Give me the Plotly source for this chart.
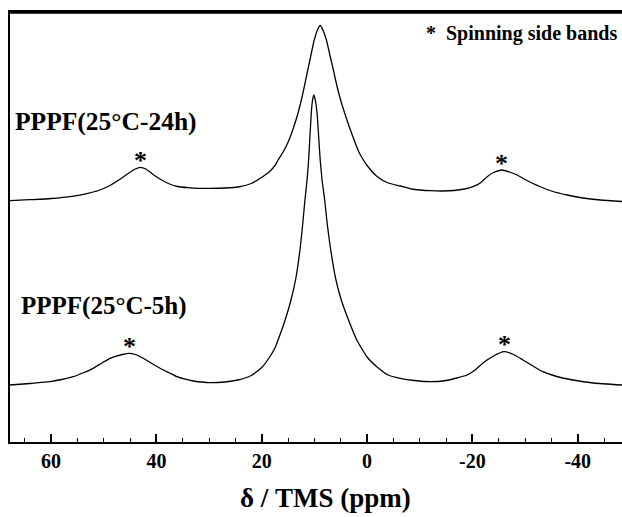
import plotly.graph_objects as go

# ---- data (chemical shift in ppm, intensity above own baseline) ----
ppm_24h = [67.8, 64.0, 60.0, 56.0, 53.0, 51.0, 49.0, 47.0, 45.5, 44.0, 43.1, 42.0, 40.5,
           39.0, 37.5, 36.0, 34.0, 32.0, 29.8, 27.0, 24.5, 22.0, 19.9, 18.5, 17.5, 16.9,
           16.0, 15.2, 14.6, 13.9, 13.1, 12.2, 11.4, 10.8, 10.1, 9.5, 8.9, 8.3, 7.7, 7.0,
           6.3, 5.7, 5.0, 4.2, 3.4, 2.5, 1.6, 1.1, 0.0, -1.9, -4.0, -6.3, -8.5, -10.1,
           -12.0, -14.4, -16.5, -18.5, -20.1, -21.5, -22.8, -24.0, -25.6, -27.0, -28.5,
           -30.0, -31.5, -33.0, -35.0, -38.0, -41.0, -44.3, -48.4]
int_24h = [0.8, 1.8, 3.0, 5.2, 8.2, 11.0, 15.5, 22.0, 27.5, 32.5, 34.2, 32.5, 26.5,
           21.5, 17.5, 15.0, 13.8, 13.2, 13.2, 13.5, 14.5, 18.0, 24.5, 30.0, 36.0, 41.5,
           49.0, 57.0, 64.5, 75.0, 88.5, 108.0, 128.0, 143.0, 160.0, 170.5, 176.0, 170.5, 161.0, 145.0,
           129.0, 115.0, 101.0, 87.5, 75.0, 62.0, 50.0, 45.0, 36.0, 25.0, 18.5, 15.5, 12.5, 11.5,
           10.8, 10.5, 11.0, 12.5, 14.8, 18.5, 24.8, 29.0, 31.5, 29.5, 26.5,
           22.0, 18.0, 14.5, 10.5, 6.5, 3.5, 1.5, 0.0]

ppm_5h = [67.8, 64.0, 60.2, 58.0, 55.8, 54.0, 52.0, 50.5, 48.8, 46.5, 45.2, 44.0, 42.5,
          41.0, 39.3, 37.5, 36.1, 33.0, 31.5, 29.8, 27.0, 24.5, 22.0, 19.9, 18.5, 17.5,
          16.9, 15.5, 14.45, 13.55, 12.75, 12.15, 11.8, 11.4, 11.1, 10.6, 10.35, 10.1, 9.8,
          9.5, 8.9, 8.55, 8.05, 7.65, 6.9, 5.95, 4.9, 3.6, 1.95, 0.0, -1.9, -4.0, -6.3,
          -9.0, -12.0, -15.0, -17.0, -19.0, -20.5, -22.0, -24.0, -26.0, -28.0, -29.6,
          -31.5, -33.4, -36.0, -39.1, -43.0, -48.4]
int_5h = [0.0, 1.5, 3.3, 5.5, 8.3, 12.0, 16.7, 21.5, 26.7, 30.5, 31.7, 30.5, 26.7,
          22.0, 16.7, 12.0, 8.3, 4.0, 3.0, 2.3, 3.0, 5.0, 9.5, 18.0, 28.0, 37.0,
          45.0, 66.0, 85.0, 106.0, 135.0, 165.0, 185.0, 205.0, 225.0, 272.0, 285.0, 290.0, 284.0,
          272.0, 225.0, 205.0, 185.0, 165.0, 135.0, 106.0, 85.0, 66.0, 45.0, 28.0, 18.0, 10.0, 6.7,
          4.5, 3.3, 4.5, 7.0, 10.0, 15.0, 22.0, 29.0, 33.3, 30.0, 25.0,
          19.0, 13.3, 8.5, 5.0, 2.0, 0.0]

offset_24h = 240.5
offset_5h = 57.0

labels = ["PPPF(25°C-24h)", "PPPF(25°C-5h)"]
band_24h = [43.1, -25.6]
band_5h = [45.2, -26.0]
band_24h_h = [34.2, 31.5]
band_5h_h = [31.7, 33.3]

x_ticks = [60, 40, 20, 0, -20, -40]
x_range = [67.8, -48.4]
y_range = [0, 430]

FONT = "Liberation Serif"

fig = go.Figure()
fig.add_trace(go.Scatter(x=ppm_24h, y=[v + offset_24h for v in int_24h], mode="lines",
                         line=dict(color="black", width=1.3, shape="spline", smoothing=0.5),
                         showlegend=False, hoverinfo="skip"))
fig.add_trace(go.Scatter(x=ppm_5h, y=[v + offset_5h for v in int_5h], mode="lines",
                         line=dict(color="black", width=1.3, shape="spline", smoothing=0.5),
                         showlegend=False, hoverinfo="skip"))
# top frame edge of the plot box, drawn along the top of the y range
fig.add_trace(go.Scatter(x=x_range, y=[y_range[1] - 0.6, y_range[1] - 0.6], mode="lines",
                         line=dict(color="black", width=2.2), cliponaxis=False,
                         showlegend=False, hoverinfo="skip"))
# invisible trace on the overlaying axis that carries the minor ticks
fig.add_trace(go.Scatter(x=[x_range[0]], y=[0], xaxis="x2", mode="markers",
                         marker=dict(opacity=0), showlegend=False, hoverinfo="skip"))

ann = []
# spinning side band stars
for xs, hs, off in [(band_24h, band_24h_h, offset_24h), (band_5h, band_5h_h, offset_5h)]:
    for xv, hv in zip(xs, hs):
        ann.append(dict(x=xv, y=hv + off + 7, xref="x", yref="y", text="<b>*</b>",
                        showarrow=False, xanchor="center", yanchor="middle",
                        font=dict(family=FONT, size=26, color="black")))
# sample labels
ann.append(dict(x=0.005, y=442 - 121, xref="paper", yref="y", text="<b>" + labels[0] + "</b>",
                showarrow=False, xanchor="left", yanchor="middle",
                font=dict(family=FONT, size=25.5, color="black")))
ann.append(dict(x=0.014, y=442 - 306, xref="paper", yref="y", text="<b>" + labels[1] + "</b>",
                showarrow=False, xanchor="left", yanchor="middle",
                font=dict(family=FONT, size=25, color="black")))
# legend note
ann.append(dict(x=0.995, y=442 - 33, xref="paper", yref="y", text="<b>*  Spinning side bands</b>",
                showarrow=False, xanchor="right", yanchor="middle",
                font=dict(family=FONT, size=20, color="black")))
# axis title
ann.append(dict(x=0.516, y=-0.13, xref="paper", yref="paper", text="<b>δ / TMS (ppm)</b>",
                showarrow=False, xanchor="center", yanchor="middle",
                font=dict(family=FONT, size=27, color="black")))

fig.update_layout(
    width=622, height=517,
    margin=dict(l=10, r=0, t=12, b=75, autoexpand=False),
    paper_bgcolor="white", plot_bgcolor="white",
    annotations=ann,
    xaxis=dict(range=x_range, tickmode="array", tickvals=x_ticks,
               ticktext=["<b>" + str(v) + "</b>" for v in x_ticks],
               ticks="inside", ticklen=8, tickwidth=1.5, tickcolor="black",
               showline=True, linecolor="black", linewidth=2, mirror=True,
               showgrid=False, zeroline=False,
               tickfont=dict(family=FONT, size=20, color="black")),
    xaxis2=dict(range=x_range, overlaying="x", anchor="y", side="bottom",
                tickmode="linear", tick0=0, dtick=5, ticks="inside", ticklen=4,
                tickwidth=1.2, tickcolor="black", showticklabels=False,
                showline=False, showgrid=False, zeroline=False),
    yaxis=dict(range=y_range, showticklabels=False, ticks="", showgrid=False, zeroline=False,
               showline=True, linecolor="black", linewidth=2, mirror=False),
)

fig.write_html("out.html", config={"displayModeBar": False},
               post_script="document.body.style.margin='0';document.body.style.overflow='hidden';")
